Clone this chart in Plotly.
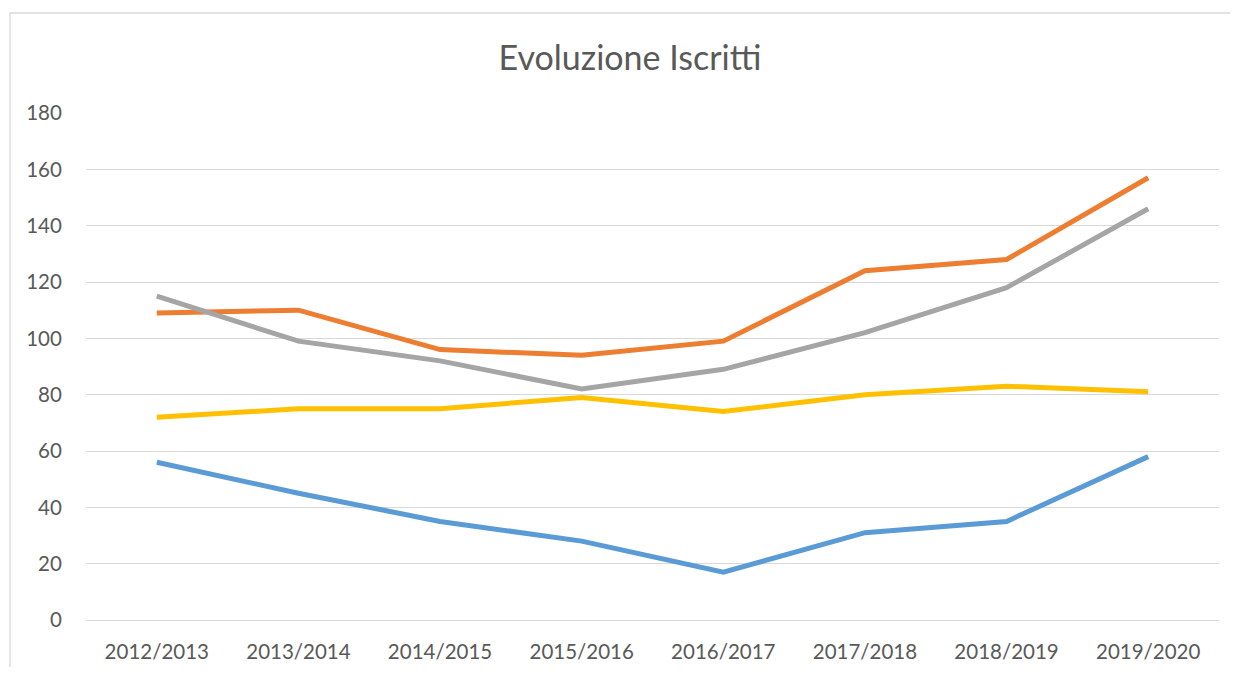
import plotly.graph_objects as go

categories = ["2012/2013", "2013/2014", "2014/2015", "2015/2016",
              "2016/2017", "2017/2018", "2018/2019", "2019/2020"]
serie_blu = [56, 45, 35, 28, 17, 31, 35, 58]
serie_arancio = [109, 110, 96, 94, 99, 124, 128, 157]
serie_grigio = [115, 99, 92, 82, 89, 102, 118, 146]
serie_giallo = [72, 75, 75, 79, 74, 80, 83, 81]
y_ticks = [0, 20, 40, 60, 80, 100, 120, 140, 160, 180]

series = [
    ("Serie 1", serie_blu, "#5B9BD5"),
    ("Serie 2", serie_arancio, "#ED7D31"),
    ("Serie 3", serie_grigio, "#A5A5A5"),
    ("Serie 4", serie_giallo, "#FFC000"),
]

fig = go.Figure()
for name, vals, col in series:
    fig.add_trace(go.Scatter(x=categories, y=vals, mode="lines", name=name,
                             line=dict(color=col, width=5), showlegend=False))

# page body has an 8px margin; shrink the figure so no scrollbars appear
OFF = 8
W, H = 1238 - 2 * OFF, 675 - 2 * OFF
L, T = 86 - OFF, 113 - OFF
R = W - (1219 - OFF)
B = H - (620 - OFF)
pw, ph = W - L - R, H - T - B

bx0 = (10 - OFF - L) / pw
bx1 = (W - L) / pw
by0 = -B / ph
by1 = 1 + (T - (13 - OFF)) / ph
border = dict(color="#D9D9D9", width=1.3)

fig.update_layout(
    width=W, height=H, autosize=False,
    margin=dict(l=L, r=R, t=T, b=B, pad=0),
    paper_bgcolor="white", plot_bgcolor="white",
    font=dict(family="Lato, 'Open Sans', sans-serif", color="#595959", size=20.5),
    title=dict(text="Evoluzione Iscritti", x=(630 - OFF) / W, xanchor="center",
               y=1 - (58 - OFF) / H, yanchor="middle",
               font=dict(size=34, color="#595959")),
    xaxis=dict(type="category", range=[-0.5, 7.5], showgrid=False,
               showline=False, zeroline=False, ticks="outside", ticklen=13,
               tickcolor="rgba(0,0,0,0)", fixedrange=True, automargin=False),
    yaxis=dict(range=[0, 180], tickvals=y_ticks, showgrid=True,
               gridcolor="#D9D9D9", gridwidth=1.3, zeroline=True,
               zerolinecolor="#D9D9D9", zerolinewidth=1.3, showline=False,
               ticks="outside", ticklen=19, tickcolor="rgba(0,0,0,0)",
               fixedrange=True, automargin=False),
    shapes=[
        dict(type="line", xref="paper", yref="paper",
             x0=bx0, x1=bx0, y0=by0, y1=by1, line=border, layer="below"),
        dict(type="line", xref="paper", yref="paper",
             x0=bx0, x1=bx1, y0=by1, y1=by1, line=border, layer="below"),
    ],
)

fig.write_html("out.html")
